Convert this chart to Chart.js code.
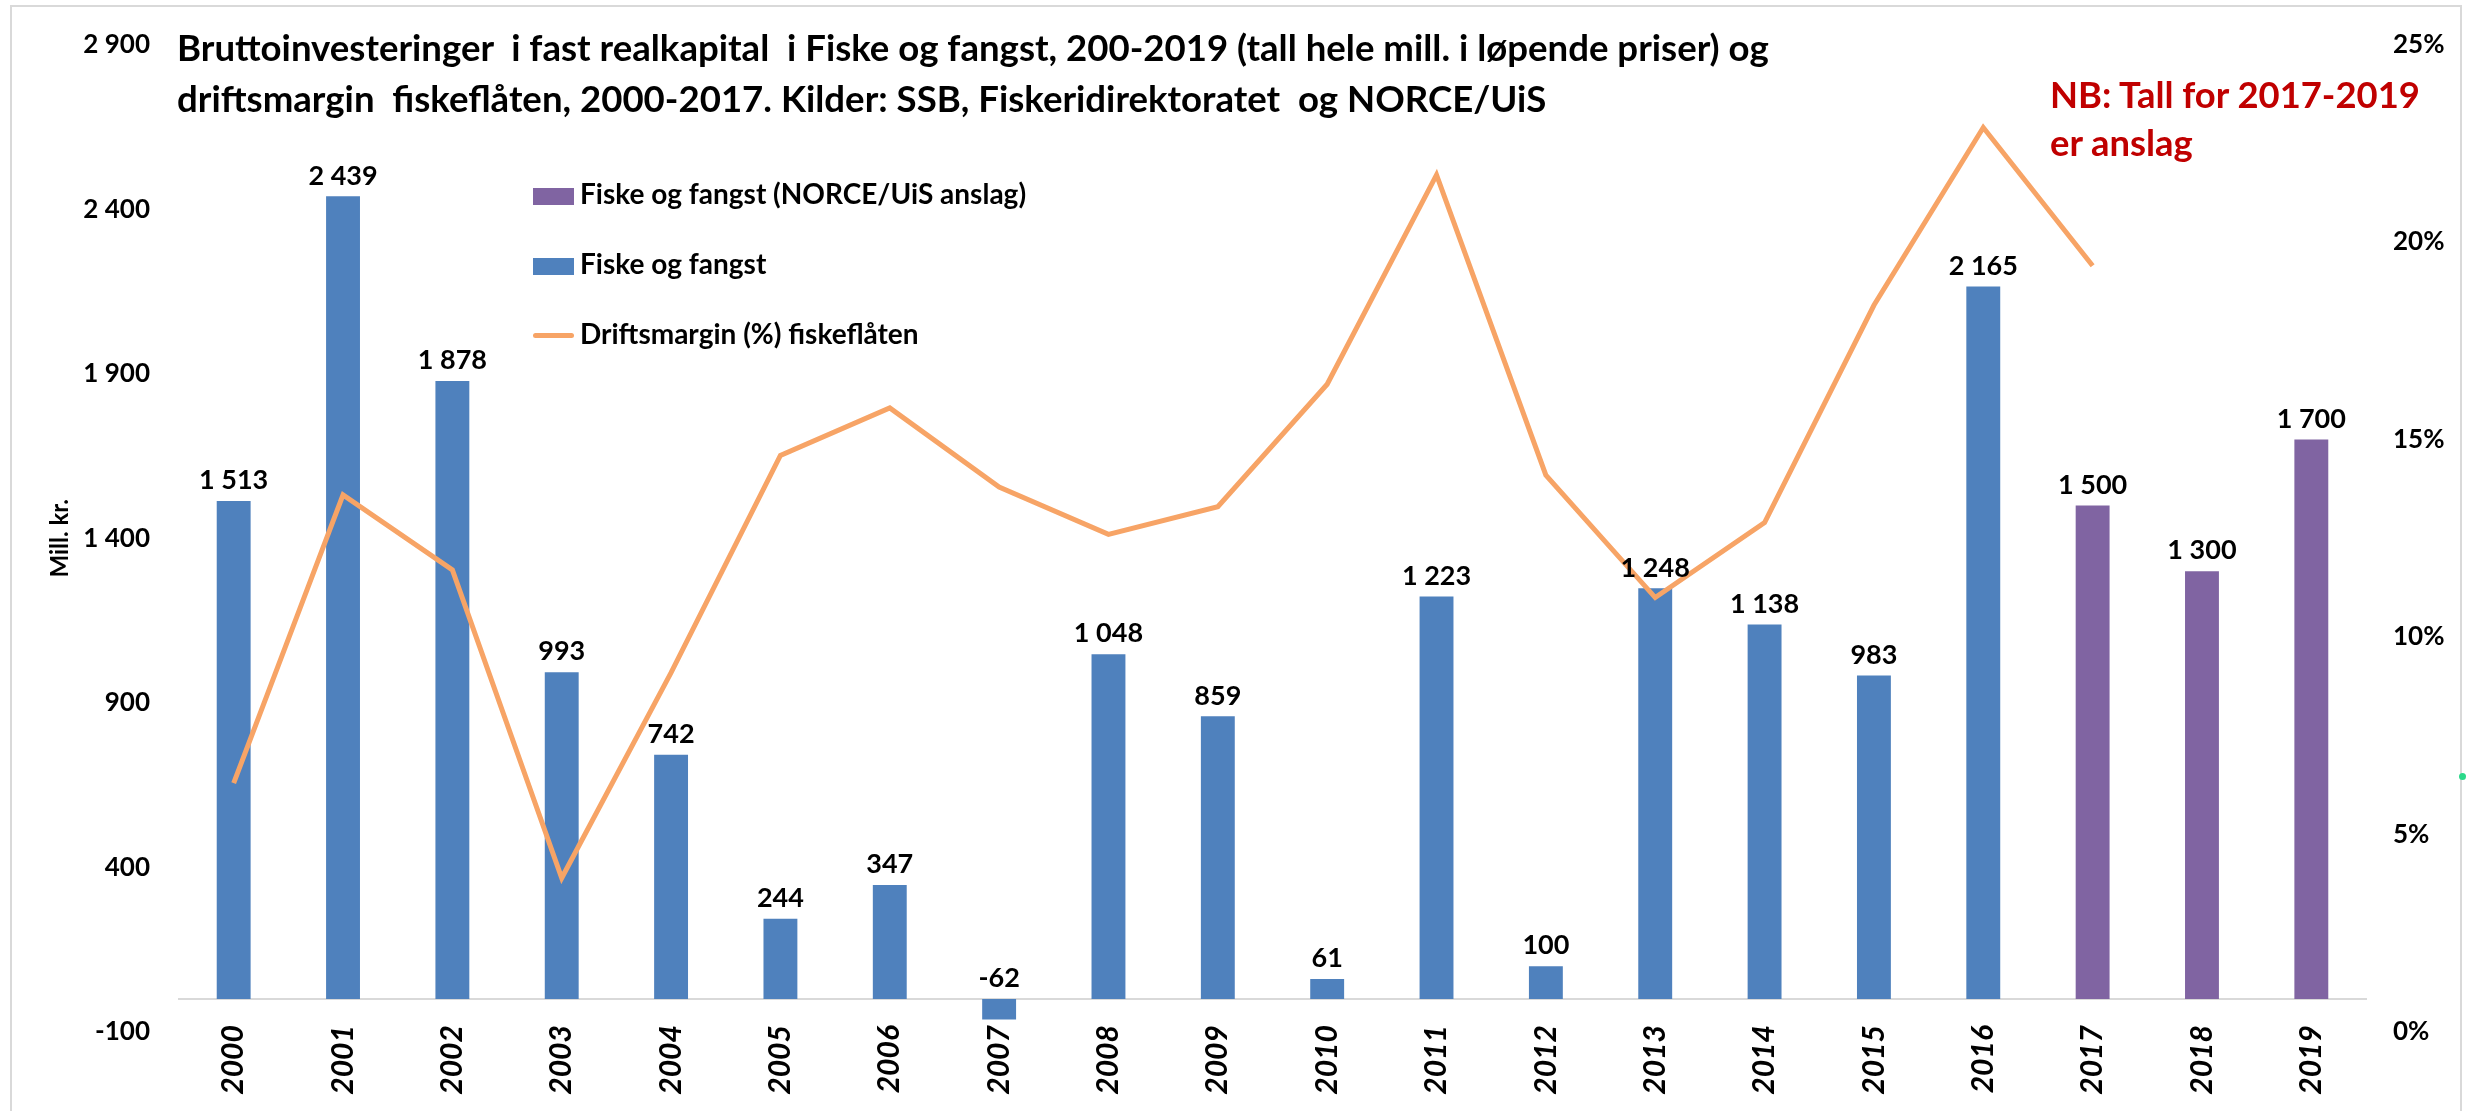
<!DOCTYPE html>
<html lang="no">
<head>
<meta charset="utf-8">
<title>Bruttoinvesteringer i Fiske og fangst</title>
<script src="https://cdn.jsdelivr.net/npm/chart.js@4.4.1/dist/chart.umd.min.js"></script>
<style>
    html, body {
        margin: 0;
        padding: 0;
        background: #fff;
    }

    #wrap {
        position: relative;
        width: 2473px;
        height: 1111px;
        overflow: hidden;
        font-family: Lato, "Open Sans", sans-serif;
        font-weight: bold;
        color: #000;
    }

    #chart {
        position: absolute;
        left: 0;
        top: 0;
    }

    .frame {
        position: absolute;
        left: 10px;
        top: 5px;
        width: 2448px;
        height: 1200px;
        border: 2px solid #d9d9d9;
        pointer-events: none;
    }

    .title {
        position: absolute;
        left: 177px;
        top: 22px;
        font-size: 36.6px;
        line-height: 51px;
        white-space: pre;
    }

    .note {
        position: absolute;
        left: 2050px;
        top: 70px;
        font-size: 36.4px;
        line-height: 48px;
        color: #c00000;
    }

    .legend {
        position: absolute;
        left: 533px;
        top: 176px;
        font-size: 28px;
    }

    .legend div {
        height: 70px;
        line-height: 34px;
        white-space: nowrap;
    }

    .legend span {
        display: inline-block;
        width: 41px;
        height: 17px;
        margin-right: 6px;
        vertical-align: -1px;
    }

    .legend span.line {
        height: 5px;
        border-radius: 3px;
        vertical-align: 6px;
    }

    .dot {
        position: absolute;
        left: 2459px;
        top: 773px;
        width: 7px;
        height: 7px;
        border-radius: 50%;
        background: #2bd98a;
    }
</style>
</head>
<body>
<div id="wrap">
    <canvas id="chart" width="2473" height="1111"></canvas>
    <div class="frame"></div>
    <div class="title">Bruttoinvesteringer  i fast realkapital  i Fiske og fangst, 200-2019 (tall hele mill. i løpende priser) og
driftsmargin  fiskeflåten, 2000-2017. Kilder: SSB, Fiskeridirektoratet  og NORCE/UiS</div>
    <div class="note">NB: Tall for 2017-2019<br>er anslag</div>
    <div class="legend">
        <div><span style="background:#8064a2"></span>Fiske og fangst (NORCE/UiS anslag)</div>
        <div><span style="background:#4f81bd"></span>Fiske og fangst</div>
        <div><span class="line" style="background:#f7a466"></span>Driftsmargin (%) fiskeflåten</div>
    </div>
    <div class="dot"></div>
</div>

<script>
    const years = ["2000", "2001", "2002", "2003", "2004", "2005", "2006", "2007", "2008", "2009",
        "2010", "2011", "2012", "2013", "2014", "2015", "2016", "2017", "2018", "2019"];

    // Mill. kr., løpende priser (SSB)
    const investSSB = [1513, 2439, 1878, 993, 742, 244, 347, -62, 1048, 859,
        61, 1223, 100, 1248, 1138, 983, 2165, null, null, null];

    // Anslag NORCE/UiS
    const investAnslag = [null, null, null, null, null, null, null, null, null, null,
        null, null, null, null, null, null, null, 1500, 1300, 1700];

    // Driftsmargin fiskeflåten, prosent
    const driftsmargin = [6.3, 13.6, 11.7, 3.9, 9.1, 14.6, 15.8, 13.8, 12.6, 13.3,
        16.4, 21.7, 14.1, 11.0, 12.9, 18.4, 22.9, 19.4, null, null];

    const leftTicks = { min: -100, max: 2900, step: 500 };
    const rightTicks = { min: 0, max: 25, step: 5 };

    function formatNumber(v) {
        return String(v).replace(/\B(?=(\d{3})+(?!\d))/g, " ");
    }

    Chart.defaults.font.family = "Lato, 'Open Sans', sans-serif";
    Chart.defaults.color = "#000";

    // value labels above each bar (at the zero line for negative bars)
    const barValueLabels = {
        id: "barValueLabels",
        afterDatasetsDraw(chart) {
            const ctx = chart.ctx;
            const yScale = chart.scales.y;

            ctx.save();
            ctx.font = "bold 27px Lato, 'Open Sans', sans-serif";
            ctx.fillStyle = "#000";
            ctx.textAlign = "center";
            ctx.textBaseline = "bottom";

            chart.data.datasets.forEach((ds, i) => {
                if (ds.type !== "bar") {
                    return;
                }
                const meta = chart.getDatasetMeta(i);
                meta.data.forEach((bar, j) => {
                    const v = ds.data[j];
                    if (v === null || v === undefined) {
                        return;
                    }
                    const top = yScale.getPixelForValue(Math.max(v, 0));
                    ctx.fillText(formatNumber(v), bar.x, top - 7);
                });
            });

            ctx.restore();
        },
    };

    new Chart(document.getElementById("chart").getContext("2d"), {
        data: {
            labels: years,

            datasets: [
                {
                    type: "line",
                    label: "Driftsmargin (%) fiskeflåten",
                    data: driftsmargin,
                    yAxisID: "y1",
                    borderColor: "#f7a466",
                    borderWidth: 5,
                    pointRadius: 0,
                    tension: 0,
                    spanGaps: false,
                    order: 0,
                },
                {
                    type: "bar",
                    label: "Fiske og fangst",
                    data: investSSB,
                    yAxisID: "y",
                    backgroundColor: "#4f81bd",
                    grouped: false,
                    categoryPercentage: 1,
                    barPercentage: 0.31,
                    order: 1,
                },
                {
                    type: "bar",
                    label: "Fiske og fangst (NORCE/UiS anslag)",
                    data: investAnslag,
                    yAxisID: "y",
                    backgroundColor: "#8064a2",
                    grouped: false,
                    categoryPercentage: 1,
                    barPercentage: 0.31,
                    order: 1,
                },
            ],
        },

        options: {
            responsive: false,
            animation: false,

            layout: {
                padding: { top: 28, bottom: 79, left: 0, right: 0 },
            },

            scales: {
                x: {
                    position: { y: 0 },
                    offset: true,
                    grid: { display: false, drawTicks: false },
                    border: { display: true, color: "#d9d9d9", width: 2 },
                    ticks: {
                        minRotation: 90,
                        maxRotation: 90,
                        padding: 26,
                        font: { size: 30, weight: "bold", style: "italic" },
                    },
                },

                y: {
                    position: "left",
                    min: leftTicks.min,
                    max: leftTicks.max,
                    grid: { display: false, drawTicks: false },
                    border: { display: false },
                    ticks: {
                        stepSize: leftTicks.step,
                        padding: 29,
                        font: { size: 26, weight: "bold" },
                        callback: (v) => formatNumber(v),
                    },
                    title: {
                        display: true,
                        text: "Mill. kr.",
                        padding: { top: 46, bottom: 0 },
                        font: { size: 24, weight: "bold" },
                    },
                    afterFit(scale) {
                        scale.width = 179;
                    },
                },

                y1: {
                    position: "right",
                    min: rightTicks.min,
                    max: rightTicks.max,
                    grid: { display: false, drawTicks: false },
                    border: { display: false },
                    ticks: {
                        stepSize: rightTicks.step,
                        padding: 27,
                        font: { size: 26, weight: "bold" },
                        callback: (v) => v + "%",
                    },
                    afterFit(scale) {
                        scale.width = 107;
                    },
                },
            },

            plugins: {
                legend: { display: false },
                tooltip: { enabled: false },
            },
        },

        plugins: [barValueLabels],
    });
</script>
</body>
</html>
